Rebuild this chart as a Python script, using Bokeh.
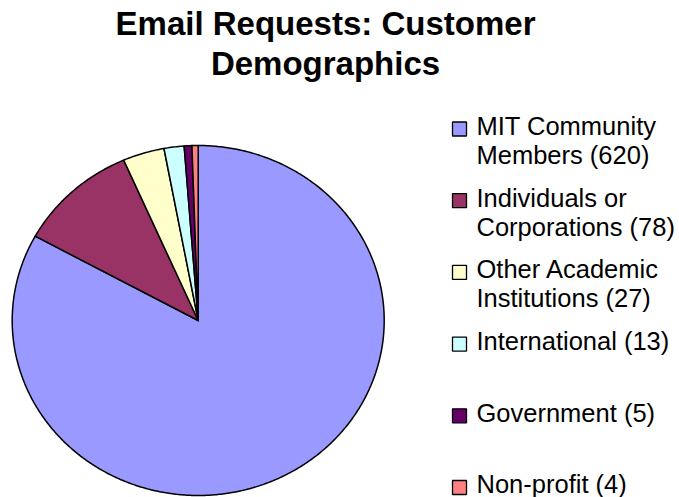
import textwrap

import numpy as np
from bokeh.core.properties import value
from bokeh.embed import file_html
from bokeh.models import ColumnDataSource, Range1d
from bokeh.plotting import figure
from bokeh.resources import INLINE

# Email requests by customer group
categories = [
    "MIT Community Members",
    "Individuals or Corporations",
    "Other Academic Institutions",
    "International",
    "Government",
    "Non-profit",
]
counts = [620, 78, 27, 13, 5, 4]
colors = ["#9999FF", "#993366", "#FFFFCC", "#CCFFFF", "#660066", "#FF8080"]
title_lines = ["Email Requests: Customer", "Demographics"]

W, H = 679, 497
FONT = "Liberation Sans"
TITLE_PX = 33
LEGEND_PX = 25.5

p = figure(
    width=W, height=H,
    x_range=Range1d(0, W), y_range=Range1d(H, 0),
    output_backend="svg", toolbar_location=None,
    min_border=0, outline_line_color=None,
)
p.axis.visible = False
p.grid.visible = False
p.background_fill_color = "white"
p.border_fill_color = "white"

# --- pie (slightly wide ellipse, starts at 12 o'clock, runs clockwise) ---
cx, cy, rx, ry = 197.7, 320.0, 186.0, 175.0
vals = np.array(counts, dtype=float)
ends = np.cumsum(vals) / vals.sum() * 2 * np.pi
starts = np.concatenate([[0.0], ends[:-1]])

xs, ys = [], []
for a0, a1 in zip(starts, ends):
    n = max(4, int(np.degrees(a1 - a0) * 2))
    t = np.linspace(a0, a1, n)
    xs.append(np.concatenate([[cx], cx + rx * np.sin(t)]).tolist())
    ys.append(np.concatenate([[cy], cy - ry * np.cos(t)]).tolist())

pie_src = ColumnDataSource(dict(xs=xs, ys=ys, color=colors, name=categories))
p.patches("xs", "ys", source=pie_src, fill_color="color",
          line_color="black", line_width=1.5, line_join="round")

# baseline correction for the svg text placement
def base(y, px):
    return y - 0.36 * px

# --- title ---
p.text(x=[325, 325], y=[base(35, TITLE_PX), base(75, TITLE_PX)], text=title_lines,
       text_font=value(FONT), text_font_size=f"{TITLE_PX}px", text_font_style="bold",
       text_align="center", text_baseline="alphabetic", text_color="black")

# --- legend ---
labels = [f"{n} ({c})" for n, c in zip(categories, counts)]
top, step = 128.5, 71.7
sq_x, txt_x = 459.0, 476.0
sq_y = [top + i * step for i in range(len(labels))]
p.scatter(x=[sq_x] * len(labels), y=sq_y, marker="square", size=14,
          fill_color=colors, line_color="black", line_width=1.3)

tx, ty, tt = [], [], []
for yc, lab in zip(sq_y, labels):
    for j, line in enumerate(textwrap.wrap(lab, width=18)):
        tx.append(txt_x)
        ty.append(base(yc + 6 + j * 29, LEGEND_PX))
        tt.append(line)
p.text(x=tx, y=ty, text=tt, text_font=value(FONT), text_font_size=f"{LEGEND_PX}px",
       text_align="left", text_baseline="alphabetic", text_color="black")

open("out.html", "w").write(file_html(p, INLINE))
